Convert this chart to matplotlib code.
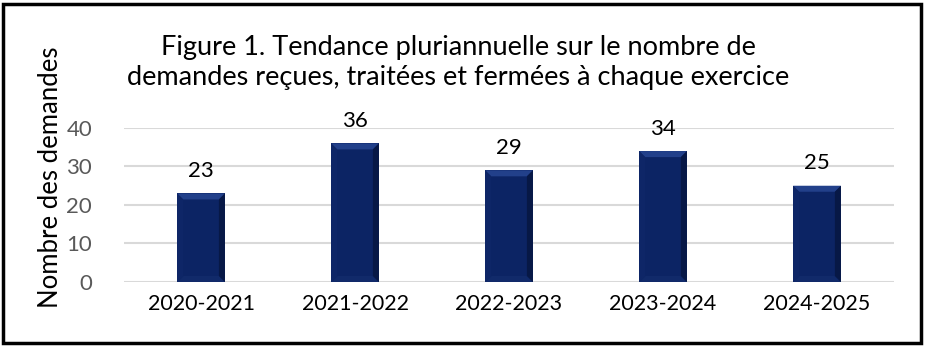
import matplotlib
matplotlib.use("Agg")
import matplotlib.pyplot as plt
from matplotlib.patches import Polygon, Rectangle

plt.rcParams['font.family'] = ['Lato', 'DejaVu Sans']

exercices = ["2020-2021", "2021-2022", "2022-2023", "2023-2024", "2024-2025"]
demandes = [23, 36, 29, 34, 25]
yticks = [0, 10, 20, 30, 40]

fig = plt.figure(figsize=(9.27, 3.48), dpi=100)
ax = fig.add_axes([0.1338, 0.1897, 0.8306, 0.4425])

x = list(range(len(exercices)))
bars = ax.bar(x, demandes, width=0.31, color="#0C2464", zorder=3)

ax.set_xlim(-0.5, 4.5)
ax.set_ylim(0, 40)

# soft bevel on each bar: lighter top, darker right side
px_x = 5 / 770
px_y = 40 / 154
for b in bars:
    x0, w, h = b.get_x(), b.get_width(), b.get_height()
    x1 = x0 + w
    bx, by = 6 * px_x, 6 * px_y
    top = [(x0, h), (x1, h), (x1 - bx, h - by), (x0 + bx, h - by)]
    bot = [(x0, 0), (x1, 0), (x1 - bx, by), (x0 + bx, by)]
    left = [(x0, 0), (x0, h), (x0 + bx, h - by), (x0 + bx, by)]
    right = [(x1, 0), (x1, h), (x1 - bx, h - by), (x1 - bx, by)]
    ax.add_patch(Polygon(top, closed=True, color="#22408A", lw=0, zorder=4))
    ax.add_patch(Polygon(bot, closed=True, color="#112A6A", lw=0, zorder=4))
    ax.add_patch(Polygon(left, closed=True, color="#0E2667", lw=0, zorder=4))
    ax.add_patch(Polygon(right, closed=True, color="#071846", lw=0, zorder=4))
    ax.text(b.get_x() + w / 2, h + 3.2, str(int(h)), ha="center", va="bottom",
            fontsize=16, color="black", clip_on=False)

ax.set_yticks(yticks)
ax.set_xticks(x)
ax.set_xticklabels(exercices, fontsize=15.5, color="black")
ax.tick_params(axis="y", labelsize=16, labelcolor="#595959", length=0, pad=23)
ax.tick_params(axis="x", length=0, pad=9)
ax.grid(axis="y", color="#D9D9D9", linewidth=1.5, zorder=0)
for s in ax.spines.values():
    s.set_visible(False)

fig.text(0.054, 0.49, "Nombre des demandes", rotation=90, ha="center",
         va="center", fontsize=18.5, color="black")
fig.text(0.494, 0.82, "Figure 1. Tendance pluriannuelle sur le nombre de\n"
         "demandes reçues, traitées et fermées à chaque exercice",
         ha="center", va="center", fontsize=19.5, color="black", linespacing=1.25)

fig.patches.append(Rectangle((0.0035, 0.0144), 0.9895, 0.9741, transform=fig.transFigure,
                             fill=False, edgecolor="black", linewidth=2.5))

fig.savefig("out.png", dpi=100, facecolor="white")
